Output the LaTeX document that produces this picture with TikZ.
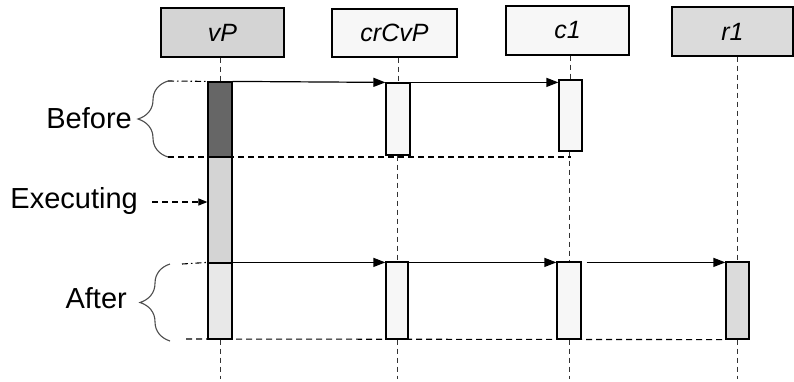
\documentclass[tikz,border=0pt]{standalone}
\usepackage{fontspec}
\setmainfont{Liberation Sans}
\usetikzlibrary{arrows.meta, calc, decorations.pathreplacing}

\begin{document}
\begin{tikzpicture}[x=1pt, y=-1pt,
    head/.style={draw, line width=1.2pt, minimum width=123pt, minimum height=49pt, inner sep=0pt, font=\fontsize{25}{27}\selectfont\itshape},
    bar/.style={draw, line width=1.2pt, minimum width=23pt, inner sep=0pt},
    life/.style={dash pattern=on 5pt off 4pt, line width=1pt, black!80},
    msg/.style={line width=1.2pt, -{Triangle[length=12pt, width=9pt]}},
    guide/.style={dash pattern=on 6pt off 4pt, line width=1.1pt},
    guidedot/.style={dash pattern=on 6pt off 3pt on 1.5pt off 3pt, line width=1.1pt},
    side/.style={font=\fontsize{29}{31}\selectfont, inner sep=0pt, anchor=base east},
    curly/.style={decorate, decoration={brace, amplitude=30pt}, line width=1.1pt, black!70}
  ]
  \useasboundingbox (0,0) rectangle (794,381);

  % objects
  \node[head, fill=black!17] (vP) at (222.5,32.5) {vP};
  \node[head, fill=black!3, minimum width=125pt, minimum height=48pt] (crCvP) at (394.5,33) {crCvP};
  \node[head, fill=black!3] (c1) at (567.5,30.5) {c1};
  \node[head, fill=black!14, minimum width=121pt] (r1) at (732.5,31.5) {r1};

  % activations
  \node[bar, fill=black!60, minimum width=24pt, minimum height=75pt] (vPbefore) at (220,119.5) {};
  \node[bar, fill=black!17, minimum width=24pt, minimum height=106pt] (vPexec) at (220,210) {};
  \node[bar, fill=black!9, minimum width=24pt, minimum height=76pt] (vPafter) at (220,301) {};
  \node[bar, fill=black!3, minimum width=24pt, minimum height=72pt] (crtop) at (398,119) {};
  \node[bar, fill=black!3, minimum height=71pt] (c1top) at (570.5,115.5) {};
  \node[bar, fill=black!3, minimum width=22pt, minimum height=77pt] (crafter) at (397,300.5) {};
  \node[bar, fill=black!3, minimum width=24pt, minimum height=77pt] (c1after) at (569,300.5) {};
  \node[bar, fill=black!14, minimum height=77pt] (r1after) at (737.5,300.5) {};

  \coordinate (bottom) at (0,379);
  \foreach \a/\b in {vPbefore.north |- vP.south/vPbefore.north,
                     vPafter.south/vPafter.south |- bottom,
                     crtop.north |- crCvP.south/crtop.north, crafter.north |- crtop.south/crafter.north, crafter.south/crafter.south |- bottom,
                     c1top.north |- c1.south/c1top.north, c1after.north |- c1top.south/c1after.north, c1after.south/c1after.south |- bottom,
                     r1after.north |- r1.south/r1after.north, r1after.south/r1after.south |- bottom} {
    \draw[life] (\a) -- (\b);
  }

  % messages
  \draw[msg] (vPbefore.north east) -- (crtop.north west);
  \draw[msg] (crtop.north east) -- (c1top.west |- crtop.north);
  \draw[msg] (vPafter.north east) -- (crafter.west |- vPafter.north);
  \draw[msg] (crafter.east |- vPafter.north) -- (c1after.west |- vPafter.north);
  \draw[msg] ($(c1after.east |- vPafter.north)+(5,0)$) -- (r1after.west |- vPafter.north);

  % phases
  \node[side] (before) at (132,128) {Before};
  \node[side] (exec) at (138,208) {Executing};
  \node[side] (after) at (127,308) {After};

  \coordinate (bt) at (168,81);
  \coordinate (bb) at (168,157);
  \coordinate (at) at (170,264);
  \coordinate (ab) at (170,341);
  \coordinate (ex) at (152,202);
  \draw[curly] (bb) -- (bt);
  \draw[curly] (ab) -- (at);
  \draw[guidedot] (bt) -- (vPbefore.north west);
  \draw[guide] (bb) -- (c1top.south |- bb);
  \draw[guidedot] ($(at)+(12,0)$) -- (vPafter.north west);
  \draw[guide] ($(ab)+(16,-2)$) -- (r1after.south west);
  \draw[guide, -{Triangle[length=9pt, width=7pt]}] (ex) -- (vPexec.west |- ex);
\end{tikzpicture}
\end{document}
